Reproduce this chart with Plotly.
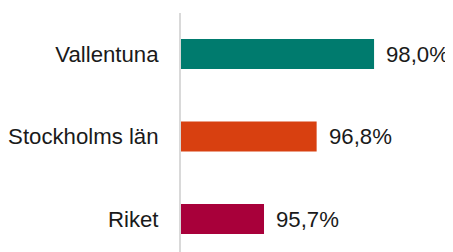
import plotly.graph_objects as go

categories = ["Vallentuna", "Stockholms län", "Riket"]
values = [98.0, 96.8, 95.7]
labels = ["98,0%", "96,8%", "95,7%"]
colors = ["#007B6E", "#D84010", "#A8003A"]

FONT = "Arial, Liberation Sans, sans-serif"
FS = 22.2

fig = go.Figure(
    go.Bar(
        x=values,
        y=categories,
        orientation="h",
        marker=dict(color=colors, line=dict(width=0)),
        width=0.364,
        hoverinfo="skip",
    )
)

for c, v, t in zip(categories, values, labels):
    fig.add_annotation(
        x=v, y=c, text=t, showarrow=False, xanchor="left", yanchor="middle",
        xshift=10, font=dict(family=FONT, size=FS, color="#1a1a1a"),
    )

# page body has an 8px default margin, so figure is sized to fill the rest
fig.update_layout(
    width=445, height=244,
    margin=dict(l=173, r=0, t=5, b=0, autoexpand=False),
    paper_bgcolor="white", plot_bgcolor="white",
    showlegend=False,
    font=dict(family=FONT, size=FS, color="#1a1a1a"),
)
fig.update_xaxes(range=[93.965, 99.65], visible=False, showgrid=False,
                 zeroline=False, automargin=False)
fig.update_yaxes(
    type="category", categoryorder="array", categoryarray=categories,
    range=[2.4, -0.497], showgrid=False, zeroline=False, automargin=False,
    showline=True, linecolor="#d9d9d9", linewidth=2,
    ticks="", ticklabelstandoff=16,
    tickfont=dict(family=FONT, size=FS, color="#1a1a1a"),
)

fig.write_html("out.html")
